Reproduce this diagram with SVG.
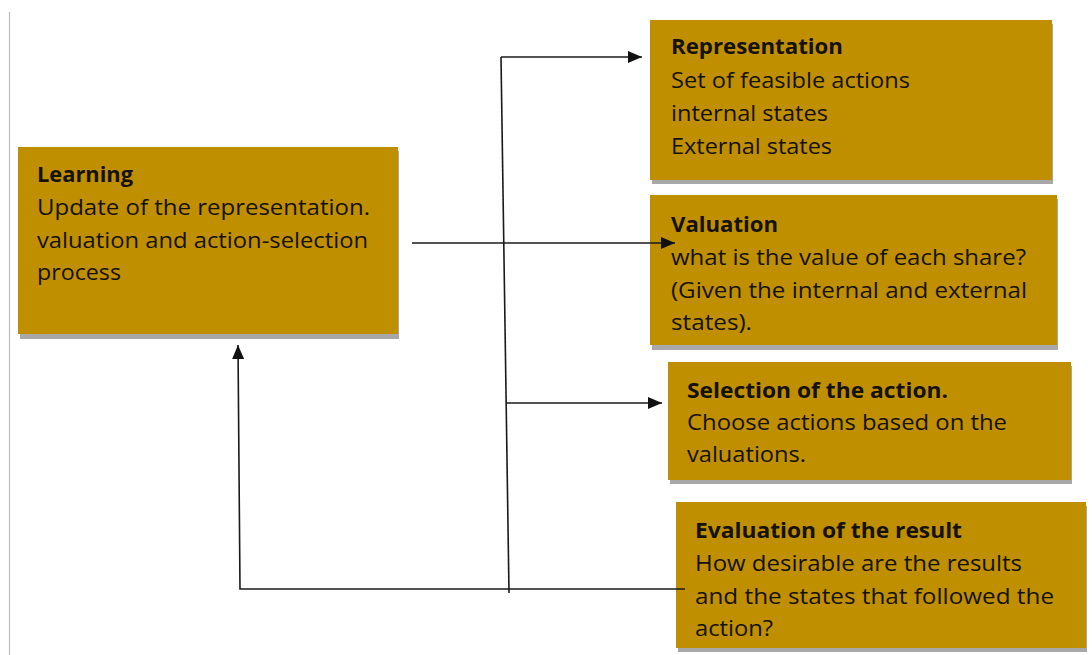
<svg xmlns="http://www.w3.org/2000/svg" width="1092" height="655" viewBox="0 0 1092 655">
<defs>
<style>
.box{fill:#BF8F00;}
.shadow{fill:#A8A8A8;}
.t{font-family:"Open Sans","Liberation Sans",sans-serif;font-size:21px;fill:#151105;}
.b{font-weight:bold;}
.c{fill:none;stroke:#1a1a1a;stroke-width:1.6;}
</style>
<marker id="ah" viewBox="0 0 14 12" refX="14" refY="6" markerWidth="14" markerHeight="12" markerUnits="userSpaceOnUse" orient="auto">
<path d="M0,0 L14,6 L0,12 z" fill="#111"/>
</marker>
</defs>
<rect width="1092" height="655" fill="#fff"/>
<line x1="9.5" y1="12" x2="9.5" y2="655" stroke="#bdbdbd" stroke-width="1.2"/>

<g id="learning">
<rect class="shadow" x="20" y="151" width="379" height="188"/>
<rect class="box" x="18" y="147" width="380" height="187"/>
<text class="t b" x="37" y="182" textLength="96" lengthAdjust="spacingAndGlyphs">Learning</text>
<text class="t" x="37" y="215" textLength="333" lengthAdjust="spacingAndGlyphs">Update of the representation.</text>
<text class="t" x="37" y="248" textLength="331" lengthAdjust="spacingAndGlyphs">valuation and action-selection</text>
<text class="t" x="37" y="280" textLength="84" lengthAdjust="spacingAndGlyphs">process</text>
</g>

<g id="representation">
<rect class="shadow" x="652" y="24" width="401" height="160"/>
<rect class="box" x="650" y="20" width="402" height="160"/>
<text class="t b" x="671" y="54" textLength="172" lengthAdjust="spacingAndGlyphs">Representation</text>
<text class="t" x="671" y="88" textLength="239" lengthAdjust="spacingAndGlyphs">Set of feasible actions</text>
<text class="t" x="671" y="121" textLength="157" lengthAdjust="spacingAndGlyphs">internal states</text>
<text class="t" x="671" y="154" textLength="161" lengthAdjust="spacingAndGlyphs">External states</text>
</g>

<g id="valuation">
<rect class="shadow" x="652" y="199" width="406" height="151"/>
<rect class="box" x="650" y="195" width="407" height="150"/>
<text class="t b" x="671" y="232" textLength="107" lengthAdjust="spacingAndGlyphs">Valuation</text>
<text class="t" x="671" y="265" textLength="355" lengthAdjust="spacingAndGlyphs">what is the value of each share?</text>
<text class="t" x="671" y="298" textLength="356" lengthAdjust="spacingAndGlyphs">(Given the internal and external</text>
<text class="t" x="671" y="330" textLength="81" lengthAdjust="spacingAndGlyphs">states).</text>
</g>

<g id="selection">
<rect class="shadow" x="670" y="366" width="402" height="118"/>
<rect class="box" x="668" y="362" width="403" height="118"/>
<text class="t b" x="687" y="398" textLength="261" lengthAdjust="spacingAndGlyphs">Selection of the action.</text>
<text class="t" x="687" y="430" textLength="320" lengthAdjust="spacingAndGlyphs">Choose actions  based on the</text>
<text class="t" x="687" y="462" textLength="119" lengthAdjust="spacingAndGlyphs">valuations.</text>
</g>

<g id="evaluation">
<rect class="shadow" x="678" y="506" width="409" height="146"/>
<rect class="box" x="676" y="502" width="410" height="146"/>
<text class="t b" x="695" y="538" textLength="267" lengthAdjust="spacingAndGlyphs">Evaluation of the result</text>
<text class="t" x="695" y="571" textLength="327" lengthAdjust="spacingAndGlyphs">How desirable are the results</text>
<text class="t" x="695" y="604" textLength="359" lengthAdjust="spacingAndGlyphs">and the states that followed the</text>
<text class="t" x="695" y="636" textLength="78" lengthAdjust="spacingAndGlyphs">action?</text>
</g>

<g id="connectors">
<path class="c" d="M412,243 L675,243" marker-end="url(#ah)"/>
<path class="c" d="M501,57 L509,593"/>
<path class="c" d="M501,57 L642,57" marker-end="url(#ah)"/>
<path class="c" d="M506,403 L662,403" marker-end="url(#ah)"/>
<path class="c" d="M685,589 L240,589 L238,345" marker-end="url(#ah)"/>
</g>
</svg>
